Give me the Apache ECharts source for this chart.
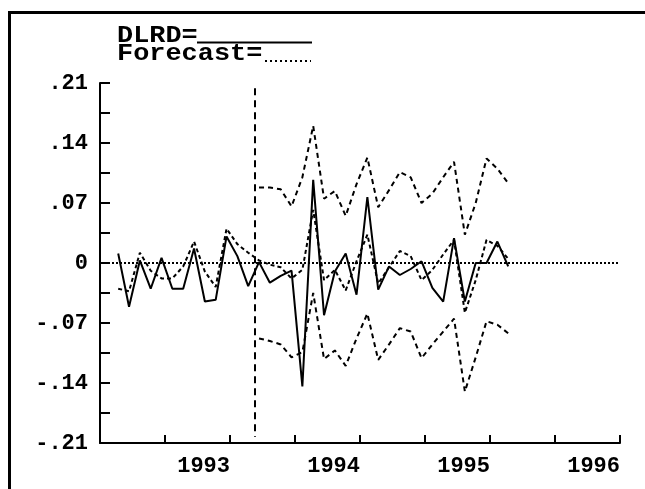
<!DOCTYPE html>
<html>
<head>
<meta charset="utf-8">
<script src="https://cdn.jsdelivr.net/npm/echarts@6/dist/echarts.min.js"></script>
<style>
  html, body { margin: 0; background: #fff; }
  #chart { width: 645px; height: 489px; }
</style>
</head>
<body>
<div id="chart"></div>
<script>
// monthly observations, the first one is early 1992
const firstMonth = 1992.14
const forecastOrigin = 1993.19
const bandStart = 13 // month index where the forecast bands start

const dlrd = [0.011, -0.051, 0.003, -0.030, 0.006, -0.030, -0.030, 0.017, -0.045, -0.043,
  0.031, 0.008, -0.027, 0.001, -0.023, -0.015, -0.009, -0.144, 0.097, -0.061,
  -0.010, 0.011, -0.037, 0.077, -0.031, -0.004, -0.014, -0.007, 0.002, -0.029,
  -0.045, 0.029, -0.045, 0.000, 0.000, 0.025, -0.004]
const forecast = [-0.030, -0.033, 0.012, -0.009, -0.018, -0.018, -0.004, 0.025, -0.010, -0.028,
  0.040, 0.022, 0.012, 0.003, -0.002, -0.005, -0.018, -0.008, 0.062, -0.020,
  -0.008, -0.032, 0.002, 0.033, -0.024, -0.005, 0.014, 0.008, -0.020, -0.008,
  0.010, 0.027, -0.058, -0.020, 0.027, 0.020, 0.005]
const upper = [0.088, 0.088, 0.086, 0.066, 0.100, 0.160, 0.075, 0.084, 0.055, 0.092,
  0.123, 0.065, 0.085, 0.106, 0.100, 0.070, 0.081, 0.100, 0.118, 0.033,
  0.070, 0.122, 0.110, 0.093]
const lower = [-0.088, -0.091, -0.095, -0.110, -0.104, -0.035, -0.112, -0.102, -0.120, -0.088,
  -0.059, -0.113, -0.095, -0.076, -0.080, -0.111, -0.095, -0.080, -0.065, -0.150,
  -0.110, -0.068, -0.072, -0.082]
const yearLabels = [1993, 1994, 1995, 1996]

const chart = echarts.init(document.getElementById('chart'))
const font = 'Liberation Mono'
const at = i => firstMonth + i / 12
const pairs = (arr, off = 0) => arr.map((v, i) => [at(i + off), v])

function yLabel(v) {
  const m = Math.round(v * 1000)
  if (m % 70 !== 0) return ''
  const r = Math.round(v * 100)
  if (r === 0) return '0'
  return (r < 0 ? '-' : '') + '.' + String(Math.abs(r)).padStart(2, '0')
}
function xLabel(v) {
  const y = Math.round(v)
  if (Math.abs(v - y) > 1e-6 || !yearLabels.includes(y)) return ''
  return String(y)
}

const black = '#000'
const legendFont = 'bold 23px "Liberation Mono"'
const option = {
  animation: false,
  backgroundColor: '#fff',
  grid: { left: 100, top: 83, width: 520, height: 360 },
  xAxis: {
    type: 'value', min: 1992, max: 1996, interval: 0.5,
    axisLine: { onZero: false, lineStyle: { color: black, width: 2 } },
    axisTick: { inside: true, length: 8, lineStyle: { color: black, width: 2 } },
    axisLabel: { formatter: xLabel, color: black, fontFamily: font, fontWeight: 'bold', fontSize: 22, align: 'right', margin: 12 },
    splitLine: { show: false }
  },
  yAxis: {
    type: 'value', min: -0.21, max: 0.21, interval: 0.035,
    axisLine: { show: true, lineStyle: { color: black, width: 2 } },
    axisTick: { show: true, inside: true, length: 10, lineStyle: { color: black, width: 2 } },
    axisLabel: { formatter: yLabel, color: black, fontFamily: font, fontWeight: 'bold', fontSize: 22, margin: 12 },
    splitLine: { show: false }
  },
  series: [
    {
      name: 'DLRD', type: 'line', data: pairs(dlrd), symbol: 'none', z: 4,
      lineStyle: { color: black, width: 2 },
      markLine: {
        silent: true, symbol: 'none', label: { show: false },
        data: [
          { yAxis: 0, lineStyle: { color: black, width: 2, type: [2, 2] } },
          [{ coord: [forecastOrigin, 0.204], lineStyle: { color: black, width: 2, type: [7, 5] } },
           { coord: [forecastOrigin, -0.203] }]
        ]
      }
    },
    {
      name: 'Forecast', type: 'line', data: pairs(forecast), symbol: 'none', z: 3,
      lineStyle: { color: black, width: 2, type: [4, 3] }
    },
    {
      name: 'upper', type: 'line', data: pairs(upper, bandStart), symbol: 'none', z: 3,
      lineStyle: { color: black, width: 2, type: [5, 4] }
    },
    {
      name: 'lower', type: 'line', data: pairs(lower, bandStart), symbol: 'none', z: 3,
      lineStyle: { color: black, width: 2, type: [5, 4] }
    }
  ],
  graphic: [
    { type: 'polyline', shape: { points: [[9.5, 489], [9.5, 12.5], [645, 12.5]] },
      style: { stroke: black, lineWidth: 3, fill: null } },
    { type: 'text', x: 117, y: 25, scaleX: 1.17,
      style: { text: 'DLRD=', font: legendFont, fill: black } },
    { type: 'line', shape: { x1: 197, y1: 42.5, x2: 312, y2: 42.5 },
      style: { stroke: black, lineWidth: 2 } },
    { type: 'text', x: 117, y: 43, scaleX: 1.17,
      style: { text: 'Forecast=', font: legendFont, fill: black } },
    { type: 'line', shape: { x1: 265, y1: 61, x2: 311, y2: 61 },
      style: { stroke: black, lineWidth: 2, lineDash: [2, 3] } }
  ]
}
chart.setOption(option)
</script>
</body>
</html>
